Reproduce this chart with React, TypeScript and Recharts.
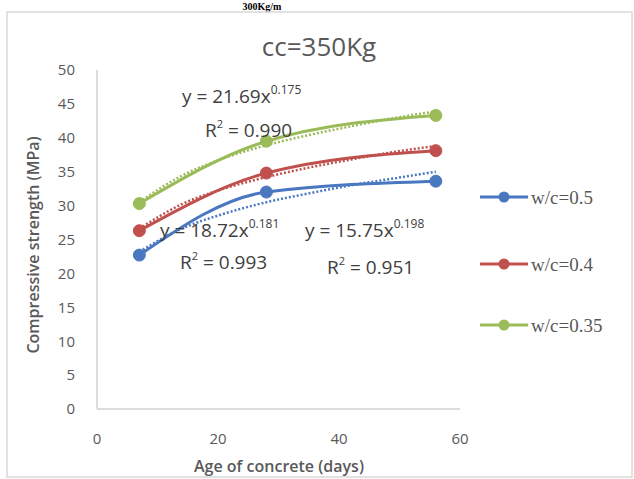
import React from 'react'
import {
  ComposedChart,
  Line,
  XAxis,
  YAxis,
} from 'recharts'

// measured ages (days)
const ages = [7, 28, 56]
const wc05 = [22.7, 32.0, 33.6]
const wc04 = [26.3, 34.8, 38.1]
const wc035 = [30.3, 39.5, 43.3]

// power trendlines
const trendAges = [7, 14, 21, 28, 35, 42, 49, 56]
const trend05 = [23.2, 26.6, 28.8, 30.5, 31.8, 33.0, 34.0, 35.0]
const trend04 = [26.6, 30.2, 32.5, 34.2, 35.6, 36.8, 37.9, 38.8]
const trend035 = [30.5, 34.4, 37.0, 38.9, 40.4, 41.7, 42.9, 43.9]

const xTicks = [0, 20, 40, 60]
const yTicks = [0, 5, 10, 15, 20, 25, 30, 35, 40, 45, 50]

const BLUE = '#4a78c0'
const RED = '#c0504d'
const GREEN = '#9bbb59'
const TEXT = '#595959'
const FONT = '"Open Sans", Lato, sans-serif'

const toPoints = (xs: number[], ys: number[]) => xs.map((x, i) => ({ x, y: ys[i] }))

const series = [
  { name: 'w/c=0.5', color: BLUE, data: toPoints(ages, wc05), trend: toPoints(trendAges, trend05) },
  { name: 'w/c=0.4', color: RED, data: toPoints(ages, wc04), trend: toPoints(trendAges, trend04) },
  { name: 'w/c=0.35', color: GREEN, data: toPoints(ages, wc035), trend: toPoints(trendAges, trend035) },
]

// legend rows sit at these heights on the right
const legendRows = [197, 264, 325]

function Equation({ x, y, coef, exp }: { x: number; y: number; coef: string; exp: string }) {
  return (
    <text x={x} y={y} fontFamily={FONT} fontSize={19} fill="#404040">
      {`y = ${coef}x`}
      <tspan fontSize={12} dy={-9}>{exp}</tspan>
    </text>
  )
}

function RSquared({ x, y, value }: { x: number; y: number; value: string }) {
  return (
    <text x={x} y={y} fontFamily={FONT} fontSize={19} fill="#404040">
      R<tspan fontSize={11} dy={-9}>2</tspan>
      <tspan dy={9}>{` = ${value}`}</tspan>
    </text>
  )
}

export default function App() {
  return (
    <div style={{ position: 'absolute', left: 0, top: 0, width: 634, height: 479, background: '#fff' }}>
      <ComposedChart
        width={634}
        height={479}
        margin={{ top: 70, right: 174, bottom: 0, left: 0 }}
      >
        <XAxis
          type="number"
          dataKey="x"
          domain={[0, 60]}
          ticks={xTicks}
          interval={0}
          tickSize={0}
          tickMargin={24}
          height={70}
          axisLine={{ stroke: '#d0d0d0', strokeWidth: 1.5 }}
          tick={{ fill: TEXT, fontSize: 15, fontFamily: FONT }}
          allowDuplicatedCategory={false}
        />
        <YAxis
          type="number"
          domain={[0, 50]}
          ticks={yTicks}
          interval={0}
          width={97}
          tickSize={0}
          tickMargin={22}
          axisLine={{ stroke: '#d0d0d0', strokeWidth: 1.5 }}
          tick={{ fill: TEXT, fontSize: 15, fontFamily: FONT }}
        />
        {series.map((s) => (
          <Line
            key={s.name}
            data={s.data}
            dataKey="y"
            name={s.name}
            type="monotone"
            stroke={s.color}
            strokeWidth={3}
            dot={{ r: 6, fill: s.color, stroke: s.color, strokeWidth: 1 }}
            isAnimationActive={false}
          />
        ))}
        {series.map((s) => (
          <Line
            key={s.name + '-trend'}
            data={s.trend}
            dataKey="y"
            name={s.name + ' trend'}
            legendType="none"
            type="monotone"
            stroke={s.color}
            strokeWidth={2.5}
            strokeDasharray="2 2"
            dot={false}
            isAnimationActive={false}
          />
        ))}
      </ComposedChart>
      <svg
        width={634}
        height={479}
        style={{ position: 'absolute', left: 0, top: 0, pointerEvents: 'none' }}
      >
        <text x={262} y={10} textAnchor="middle" fontFamily='"Liberation Serif", serif' fontWeight="bold" fontSize={10} fill="#000">
          300Kg/m
        </text>
        <rect x={7} y={12} width={625} height={465} fill="none" stroke="#d9d9d9" strokeWidth={1.5} />
        <text x={319} y={56} textAnchor="middle" fontFamily={FONT} fontSize={26} fill={TEXT}>
          cc=350Kg
        </text>
        <text
          x={33}
          y={245}
          transform="rotate(-90 33 245)"
          textAnchor="middle"
          dominantBaseline="central"
          fontFamily={FONT}
          fontWeight={600}
          fontSize={16}
          fill={TEXT}
        >
          Compressive strength (MPa)
        </text>
        <text x={279} y={472} textAnchor="middle" fontFamily={FONT} fontWeight={600} fontSize={16} fill={TEXT}>
          Age of concrete (days)
        </text>
        <Equation x={182} y={103} coef="21.69" exp="0.175" />
        <RSquared x={205} y={137} value="0.990" />
        <Equation x={160} y={237} coef="18.72" exp="0.181" />
        <RSquared x={180} y={269} value="0.993" />
        <Equation x={305} y={237} coef="15.75" exp="0.198" />
        <RSquared x={327} y={274} value="0.951" />
        {series.map((s, i) => (
          <g key={s.name}>
            <line x1={480} y1={legendRows[i]} x2={528} y2={legendRows[i]} stroke={s.color} strokeWidth={3} />
            <circle cx={504} cy={legendRows[i]} r={5.5} fill={s.color} />
            <text
              x={531}
              y={legendRows[i]}
              dominantBaseline="central"
              fontFamily='"Liberation Serif", serif'
              fontSize={19}
              fill={TEXT}
            >
              {s.name}
            </text>
          </g>
        ))}
      </svg>
    </div>
  )
}
